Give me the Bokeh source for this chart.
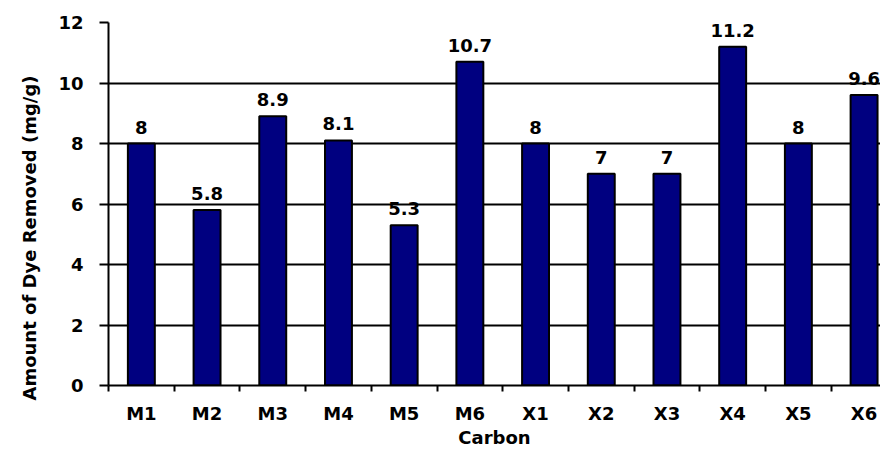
from bokeh.plotting import figure
from bokeh.models import Range1d, FixedTicker, ColumnDataSource, Title
from bokeh.embed import file_html
from bokeh.resources import INLINE

categories = ["M1", "M2", "M3", "M4", "M5", "M6", "X1", "X2", "X3", "X4", "X5", "X6"]
values = [8, 5.8, 8.9, 8.1, 5.3, 10.7, 8, 7, 7, 11.2, 8, 9.6]
value_labels = ["8", "5.8", "8.9", "8.1", "5.3", "10.7", "8", "7", "7", "11.2", "8", "9.6"]
y_ticks = [0, 2, 4, 6, 8, 10, 12]
y_title = "Amount of Dye Removed (mg/g)"
x_title = "Carbon"

FONT = "DejaVu Sans"
centers = [i + 0.5 for i in range(len(categories))]
boundaries = list(range(len(categories) + 1))

src = ColumnDataSource(dict(x=centers, top=values, lab=value_labels))

p = figure(width=880, height=450, output_backend="svg", toolbar_location=None,
           x_range=Range1d(0, 11.75), y_range=Range1d(0, 12),
           min_border_left=107, min_border_right=0, min_border_top=22, min_border_bottom=65)
p.outline_line_color = None
p.background_fill_color = "white"
p.border_fill_color = "white"

p.vbar(x="x", top="top", width=0.41, bottom=0, source=src,
       fill_color="#000080", line_color="black", line_width=2)
p.text(x="x", y="top", text="lab", source=src, text_align="center", text_baseline="bottom",
       y_offset=-10, text_font={"value": FONT}, text_font_style="bold",
       text_font_size="18px", text_color="black")

# grid
p.xgrid.visible = False
p.ygrid.ticker = FixedTicker(ticks=y_ticks)
p.ygrid.grid_line_color = "black"
p.ygrid.grid_line_width = 2

# y axis
p.yaxis.ticker = FixedTicker(ticks=y_ticks)
p.yaxis.axis_line_color = "black"
p.yaxis.axis_line_width = 2
p.yaxis.major_tick_in = 0
p.yaxis.major_tick_out = 9
p.yaxis.major_tick_line_width = 2
p.yaxis.minor_tick_line_color = None
p.yaxis.major_label_standoff = 16
p.yaxis.major_label_text_font = FONT
p.yaxis.major_label_text_font_style = "bold"
p.yaxis.major_label_text_font_size = "18px"
p.yaxis.major_label_text_color = "black"

# y title, placed low along the axis as in the original
p.add_layout(Title(text=y_title, align="left", offset=-15, standoff=32,
                   text_font=FONT, text_font_style="bold", text_font_size="18px",
                   text_color="black"), "left")

# x axis
p.xaxis.ticker = FixedTicker(ticks=centers, minor_ticks=boundaries)
p.xaxis.major_label_overrides = {c: lab for c, lab in zip(centers, categories)}
p.xaxis.axis_line_color = "black"
p.xaxis.axis_line_width = 2
p.xaxis.major_tick_in = 0
p.xaxis.major_tick_out = 0
p.xaxis.major_tick_line_color = None
p.xaxis.minor_tick_in = 0
p.xaxis.minor_tick_out = 6
p.xaxis.minor_tick_line_color = "black"
p.xaxis.minor_tick_line_width = 2
p.xaxis.major_label_standoff = 11
p.xaxis.major_label_text_font = FONT
p.xaxis.major_label_text_font_style = "bold"
p.xaxis.major_label_text_font_size = "18px"
p.xaxis.major_label_text_color = "black"
p.xaxis.axis_label = x_title
p.xaxis.axis_label_text_font = FONT
p.xaxis.axis_label_text_font_style = "bold"
p.xaxis.axis_label_text_font_size = "18px"
p.xaxis.axis_label_text_color = "black"
p.xaxis.axis_label_standoff = 0

open("out.html", "w").write(file_html(p, INLINE))
